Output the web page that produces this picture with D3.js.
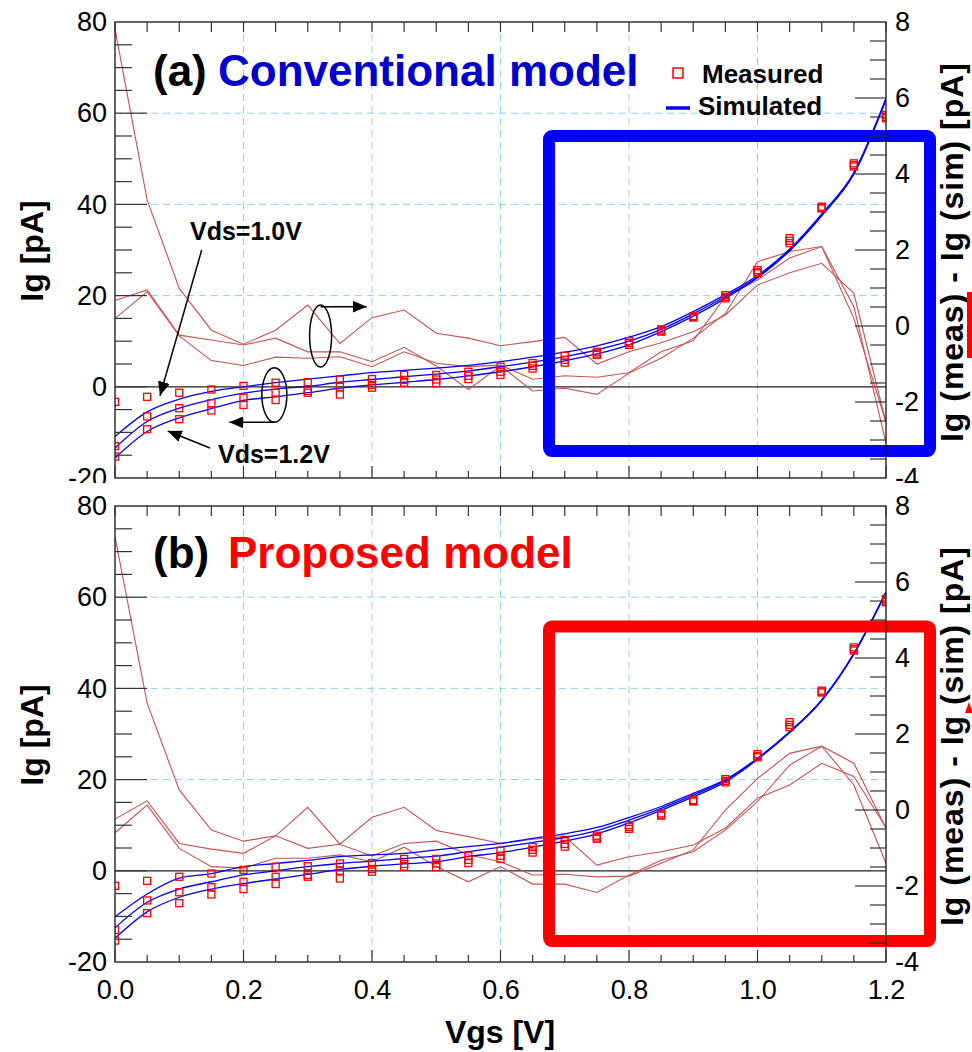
<!DOCTYPE html>
<html>
<head>
<meta charset="utf-8">
<script src="https://cdn.jsdelivr.net/npm/d3@7"></script>
<style>
  body { margin: 0; background: #fff; }
  svg { font-family: "Liberation Sans", Arial, sans-serif; }
</style>
</head>
<body>
<svg width="972" height="1052"></svg>
<script>
// gate voltage points (x axis)
var vgs = [0.00, 0.05, 0.10, 0.15, 0.20, 0.25, 0.30, 0.35, 0.40, 0.45, 0.50, 0.55, 0.60,
           0.65, 0.70, 0.75, 0.80, 0.85, 0.90, 0.95, 1.00, 1.05, 1.10, 1.15, 1.20];
var xLabels = [0.0, 0.2, 0.4, 0.6, 0.8, 1.0, 1.2];
var yLeftLabels = [-20, 0, 20, 40, 60, 80];
var yRightLabels = [-4, -2, 0, 2, 4, 6, 8];

// measured Ig [pA] for Vds = 1.0 / 1.1 / 1.2 V
var meas10 = [-3.3, -2.2, -1.3, -0.6, 0.2, 0.9, 1.0, 1.6, 1.7, 2.6, 2.6, 3.3, 4.4, 5.2, 6.8, 7.7, 10.0, 12.6, 15.5, 20.1, 25.6, 32.6, 39.5, 49.0, 59.6];
var meas11 = [-13.0, -6.5, -4.7, -3.6, -2.4, -1.3, -0.9, 0.0, 0.4, 1.5, 1.6, 2.4, 3.3, 4.6, 5.9, 7.3, 9.6, 12.3, 15.3, 19.7, 25.2, 32.0, 39.3, 48.6, 59.2];
var meas12 = [-15.3, -9.3, -7.1, -5.2, -4.0, -2.9, -1.3, -1.7, -0.2, 0.9, 0.8, 1.7, 2.6, 4.0, 5.3, 7.0, 9.2, 12.1, 15.2, 19.4, 24.9, 31.5, 39.1, 48.3, 58.9];

// (a) conventional model, simulated Ig [pA]
var simA10 = [-10.9, -5.5, -2.7, -1.0, 0.0, 0.9, 1.7, 2.4, 3.1, 3.6, 4.1, 4.7, 5.5, 6.5, 7.6, 9.0, 10.9, 13.2, 16.5, 20.2, 24.4, 30.2, 37.9, 47.0, 63.3];
var simA11 = [-13.4, -7.6, -4.7, -2.8, -1.4, -0.5, 0.1, 1.0, 1.6, 2.2, 2.8, 3.5, 4.4, 5.4, 6.6, 8.1, 10.0, 12.6, 16.0, 19.8, 24.1, 30.0, 37.7, 46.8, 63.1];
var simA12 = [-15.6, -9.8, -6.8, -4.8, -3.0, -2.2, -1.3, -0.3, 0.4, 1.0, 1.6, 2.4, 3.3, 4.4, 5.7, 7.2, 9.2, 12.1, 15.5, 19.4, 23.9, 29.8, 37.5, 46.6, 62.9];
// (a) Ig(meas) - Ig(sim) [pA]
var diffA1 = [7.81, 3.32, 0.99, -0.11, -0.48, -0.11, 0.55, -0.46, 0.22, 0.42, -0.19, -0.32, -0.52, -0.41, -0.30, -1.00, -0.68, -0.44, -0.15, 0.29, 1.08, 1.40, 1.65, 0.86, -2.54];
var diffA2 = [0.67, 0.95, -0.24, -0.37, -0.50, -0.32, -0.68, -0.68, -0.94, -0.56, -1.05, -1.67, -1.05, -1.71, -1.64, -1.80, -1.24, -0.85, -0.32, 0.33, 1.69, 1.96, 2.09, 0.51, -3.09];
var diffA3 = [0.20, 0.90, -0.26, -0.91, -1.04, -0.82, -0.85, -0.81, -1.07, -0.68, -0.98, -1.07, -1.03, -1.40, -1.31, -1.35, -1.23, -0.68, -0.39, 0.77, 1.21, 1.79, 2.09, 0.20, -2.54];

// (b) proposed model, simulated Ig [pA]
var simB10 = [-10.1, -5.1, -1.6, -0.6, 0.9, 1.6, 2.3, 3.1, 3.5, 3.8, 4.6, 5.3, 6.0, 7.1, 8.1, 9.5, 11.7, 14.1, 17.0, 20.0, 24.7, 30.5, 37.5, 47.7, 61.2];
var simB11 = [-12.5, -6.9, -4.0, -2.4, -0.9, 0.0, 0.9, 1.6, 2.1, 2.7, 3.2, 4.2, 5.2, 6.2, 7.3, 8.8, 11.1, 13.7, 16.6, 19.8, 24.6, 30.4, 37.4, 47.6, 61.1];
var simB12 = [-14.8, -9.0, -5.8, -4.0, -2.8, -1.8, -0.8, 0.3, 1.0, 1.5, 2.0, 3.1, 4.0, 5.2, 6.5, 8.1, 10.5, 13.3, 16.2, 19.5, 24.4, 30.3, 37.3, 47.5, 61.0];
// (b) Ig(meas) - Ig(sim) [pA]
var diffB1 = [7.19, 2.81, 0.53, -0.53, -0.82, -0.68, 0.07, -0.90, -0.19, 0.07, -0.54, -0.70, -0.88, -0.77, -0.70, -1.45, -1.23, -1.10, -0.92, -0.48, 0.31, 0.66, 1.23, 0.88, -0.46];
var diffB2 = [-0.24, 0.24, -0.88, -1.03, -1.14, -0.68, -1.01, -0.90, -1.21, -0.88, -0.82, -1.18, -1.36, -1.71, -1.69, -1.76, -1.74, -1.40, -1.05, 0.00, 0.83, 1.49, 1.68, 1.23, -0.48];
var diffB3 = [-0.60, 0.13, -1.01, -1.49, -1.53, -1.27, -1.27, -1.18, -1.36, -0.98, -1.49, -1.89, -1.49, -1.95, -1.95, -2.17, -1.71, -1.32, -1.10, -0.53, 0.22, 1.18, 1.68, 0.66, -1.40];

var margin = {left: 115},
    W = 771, H = 456;

var x = d3.scaleLinear().domain([0, 1.2]).range([0, W]);
var yL = d3.scaleLinear().domain([-20, 80]).range([H, 0]);
var yR = d3.scaleLinear().domain([-4, 8]).range([H, 0]);

var gridColor = "#8fd0f8";
var plainNum = function(d) { return String(d); };   // keep ascii hyphen for negatives

var svg = d3.select("svg");
svg.append("rect").attr("width", 972).attr("height", 1052).attr("fill", "#fff");

var defs = svg.append("defs");
defs.append("marker")
    .attr("id", "arrow")
    .attr("markerUnits", "userSpaceOnUse")
    .attr("markerWidth", 14).attr("markerHeight", 12)
    .attr("refX", 14).attr("refY", 6)
    .attr("orient", "auto")
  .append("path")
    .attr("d", "M0,0 L14,6 L0,12 Z")
    .attr("fill", "#000");

function zip(ys) {
  return vgs.map(function(v, i) { return {x: v, y: ys[i]}; });
}

function drawPanel(top, sims, diffs, opt) {
  var g = svg.append("g").attr("transform", "translate(" + margin.left + "," + top + ")");

  defs.append("clipPath").attr("id", "clip" + opt.id)
    .append("rect").attr("width", W).attr("height", H);

  // dashed grid
  g.selectAll(null).data([0.2, 0.4, 0.6, 0.8, 1.0]).enter().append("line")
      .attr("x1", function(d) { return x(d); }).attr("x2", function(d) { return x(d); })
      .attr("y1", 0).attr("y2", H)
      .attr("stroke", gridColor).attr("stroke-width", 1).attr("stroke-dasharray", "7,5");
  g.selectAll(null).data([20, 40, 60]).enter().append("line")
      .attr("x1", 0).attr("x2", W)
      .attr("y1", function(d) { return yL(d); }).attr("y2", function(d) { return yL(d); })
      .attr("stroke", gridColor).attr("stroke-width", 1).attr("stroke-dasharray", "7,5");

  // zero line
  g.append("line")
      .attr("x1", 0).attr("x2", W).attr("y1", yL(0)).attr("y2", yL(0))
      .attr("stroke", "#222").attr("stroke-width", 1.2);

  var plot = g.append("g").attr("clip-path", "url(#clip" + opt.id + ")");

  // difference lines on right axis
  var lineR = d3.line()
      .x(function(d) { return x(d.x); })
      .y(function(d) { return yR(d.y); });
  diffs.forEach(function(s) {
    plot.append("path").datum(zip(s))
        .attr("d", lineR)
        .attr("fill", "none")
        .attr("stroke", "#c85252")
        .attr("stroke-width", 1.1);
  });

  // highlight box
  g.append("rect")
      .attr("x", x(opt.box[0])).attr("y", yL(opt.box[2]))
      .attr("width", x(opt.box[1]) - x(opt.box[0]))
      .attr("height", yL(opt.box[3]) - yL(opt.box[2]))
      .attr("rx", 3)
      .attr("fill", "none")
      .attr("stroke", opt.boxColor)
      .attr("stroke-width", 12);

  // simulated lines
  var lineL = d3.line()
      .curve(d3.curveMonotoneX)
      .x(function(d) { return x(d.x); })
      .y(function(d) { return yL(d.y); });
  sims.forEach(function(s) {
    plot.append("path").datum(zip(s))
        .attr("d", lineL)
        .attr("fill", "none")
        .attr("stroke", "#0000ff")
        .attr("stroke-width", 1.3);
  });

  // measured squares
  [meas10, meas11, meas12].forEach(function(s) {
    plot.selectAll(null).data(zip(s)).enter().append("rect")
        .attr("x", function(d) { return x(d.x) - 3.5; })
        .attr("y", function(d) { return yL(d.y) - 3.5; })
        .attr("width", 7).attr("height", 7)
        .attr("fill", "none")
        .attr("stroke", "#ff0000")
        .attr("stroke-width", 1.3);
  });

  // frame
  g.append("rect").attr("width", W).attr("height", H)
      .attr("fill", "none").attr("stroke", "#111").attr("stroke-width", 1.3);

  // ticks
  var tickCol = "#333";
  g.selectAll(null).data(vgs).enter().append("line")
      .attr("x1", function(d) { return x(d); }).attr("x2", function(d) { return x(d); })
      .attr("y1", 0).attr("y2", 10)
      .attr("stroke", tickCol).attr("stroke-width", 1.2);
  g.selectAll(null).data(vgs).enter().append("line")
      .attr("x1", function(d) { return x(d); }).attr("x2", function(d) { return x(d); })
      .attr("y1", H).attr("y2", function(d) { return Math.abs(d * 5 - Math.round(d * 5)) < 1e-6 ? H - 12 : H - 7; })
      .attr("stroke", tickCol).attr("stroke-width", 1.2);
  g.selectAll(null).data(d3.range(-15, 80, 5)).enter().append("line")
      .attr("x1", 0).attr("x2", function(d) { return d % 20 === 0 ? 32 : 17; })
      .attr("y1", function(d) { return yL(d); }).attr("y2", function(d) { return yL(d); })
      .attr("stroke", tickCol).attr("stroke-width", 1.2);
  g.selectAll(null).data(d3.range(-3.5, 8, 0.5)).enter().append("line")
      .attr("x1", W).attr("x2", function(d) { return d % 2 === 0 ? W - 31 : W - 16; })
      .attr("y1", function(d) { return yR(d); }).attr("y2", function(d) { return yR(d); })
      .attr("stroke", tickCol).attr("stroke-width", 1.2);

  // tick labels
  g.append("g")
      .call(d3.axisLeft(yL).tickValues(yLeftLabels).tickFormat(plainNum).tickSize(0).tickPadding(8))
      .call(function(a) { a.select(".domain").remove(); })
      .selectAll("text").attr("font-size", 27).attr("fill", "#000")
      .attr("font-family", "Liberation Sans, Arial, sans-serif");
  g.append("g")
      .attr("transform", "translate(" + W + ",0)")
      .call(d3.axisRight(yR).tickValues(yRightLabels).tickFormat(plainNum).tickSize(0).tickPadding(9))
      .call(function(a) { a.select(".domain").remove(); })
      .selectAll("text").attr("font-size", 27).attr("fill", "#000")
      .attr("font-family", "Liberation Sans, Arial, sans-serif");

  // panel title
  g.append("text").attr("x", 38).attr("y", opt.titleY)
      .attr("font-size", 44).attr("font-weight", "bold").attr("fill", "#000")
      .text(opt.tag);
  g.append("text").attr("x", opt.titleX).attr("y", opt.titleY)
      .attr("font-size", 44).attr("font-weight", "bold").attr("fill", opt.titleColor)
      .text(opt.title);

  // axis titles
  svg.append("text")
      .attr("transform", "translate(43," + (top + 229) + ") rotate(-90)")
      .attr("text-anchor", "middle")
      .attr("font-size", 32).attr("font-weight", "bold")
      .text("Ig [pA]");
  svg.append("text")
      .attr("transform", "translate(963," + (top + 230.5) + ") rotate(-90)")
      .attr("text-anchor", "middle")
      .attr("font-size", 32).attr("font-weight", "bold")
      .attr("textLength", 379).attr("lengthAdjust", "spacing")
      .text("Ig (meas) - Ig (sim) [pA]");

  return g;
}

// ----- panel (a)
var ga = drawPanel(22, [simA10, simA11, simA12], [diffA1, diffA2, diffA3], {
  id: "a", tag: "(a)", title: "Conventional model", titleColor: "#0000cc",
  titleX: 103, titleY: 64, box: [0.6755, 1.2685, 55.0, -14.1], boxColor: "#0000ff"
});

// legend
ga.append("rect").attr("x", 558).attr("y", 46).attr("width", 10).attr("height", 10)
    .attr("fill", "none").attr("stroke", "#ff0000").attr("stroke-width", 1.5);
ga.append("text").attr("x", 587).attr("y", 61)
    .attr("font-size", 26).attr("font-weight", "bold").text("Measured");
ga.append("line").attr("x1", 551).attr("x2", 575).attr("y1", 86).attr("y2", 86)
    .attr("stroke", "#0000ff").attr("stroke-width", 3.5);
ga.append("text").attr("x", 583).attr("y", 93)
    .attr("font-size", 26).attr("font-weight", "bold").text("Simulated");

// annotations
ga.append("text").attr("x", 75).attr("y", 218)
    .attr("font-size", 25).attr("font-weight", "bold").text("Vds=1.0V");
ga.append("text").attr("x", 103).attr("y", 441)
    .attr("font-size", 25).attr("font-weight", "bold").text("Vds=1.2V");
ga.append("line").attr("x1", 86.7).attr("y1", 228).attr("x2", 45).attr("y2", 373.7)
    .attr("stroke", "#000").attr("stroke-width", 1.5).attr("marker-end", "url(#arrow)");
ga.append("line").attr("x1", 95).attr("y1", 426).attr("x2", 52.7).attr("y2", 409)
    .attr("stroke", "#000").attr("stroke-width", 1.5).attr("marker-end", "url(#arrow)");
ga.append("ellipse").attr("cx", x(0.248)).attr("cy", 373).attr("rx", 12.5).attr("ry", 27.3)
    .attr("fill", "none").attr("stroke", "#000").attr("stroke-width", 1.5);
ga.append("line").attr("x1", x(0.248)).attr("y1", 400.3).attr("x2", 114.3).attr("y2", 400.3)
    .attr("stroke", "#000").attr("stroke-width", 1.5).attr("marker-end", "url(#arrow)");
ga.append("ellipse").attr("cx", x(0.32)).attr("cy", 314).attr("rx", 11).attr("ry", 31)
    .attr("fill", "none").attr("stroke", "#000").attr("stroke-width", 1.5);
ga.append("line").attr("x1", x(0.32)).attr("y1", 284.7).attr("x2", 251.7).attr("y2", 284.7)
    .attr("stroke", "#000").attr("stroke-width", 1.5).attr("marker-end", "url(#arrow)");

svg.append("rect").attr("x", 967).attr("y", 292).attr("width", 5).attr("height", 66).attr("fill", "#ff0000");

// cover lower part so panel (a)'s bottom labels are cut like the original
svg.append("rect").attr("x", 0).attr("y", 483).attr("width", 972).attr("height", 569).attr("fill", "#fff");

// ----- panel (b)
var gb = drawPanel(506, [simB10, simB11, simB12], [diffB1, diffB2, diffB3], {
  id: "b", tag: "(b)", title: "Proposed model", titleColor: "#ff0000",
  titleX: 113, titleY: 62, box: [0.6755, 1.2685, 53.6, -15.4], boxColor: "#ff0000"
});

svg.append("path").attr("d", "M965,713 L969,702 L973,713 Z").attr("fill", "#ff0000");

// x axis labels and title
gb.append("g")
    .attr("transform", "translate(0," + H + ")")
    .call(d3.axisBottom(x).tickValues(xLabels).tickFormat(d3.format(".1f")).tickSize(0).tickPadding(18))
    .call(function(a) { a.select(".domain").remove(); })
    .selectAll("text").attr("font-size", 27).attr("fill", "#000")
    .attr("font-family", "Liberation Sans, Arial, sans-serif");

svg.append("text")
    .attr("x", 500).attr("y", 1043)
    .attr("text-anchor", "middle")
    .attr("font-size", 32).attr("font-weight", "bold")
    .text("Vgs [V]");
</script>
</body>
</html>
